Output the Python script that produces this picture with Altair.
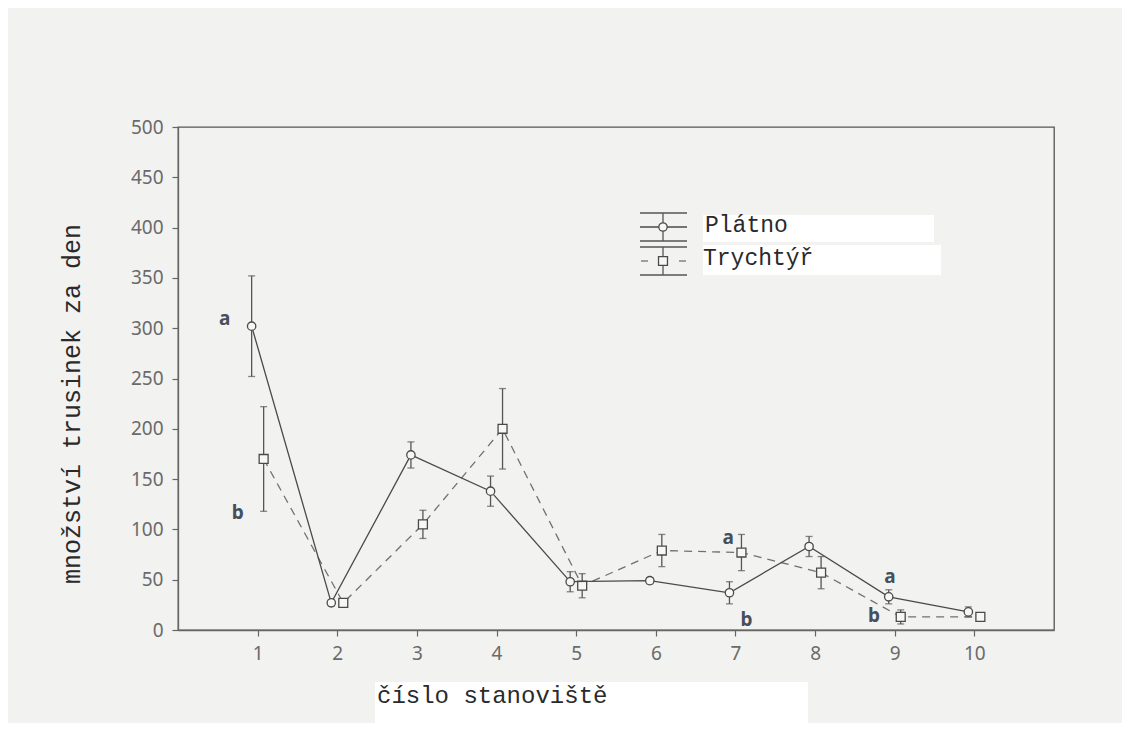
import altair as alt
import pandas as pd

# ---- data ----
sites = [1, 2, 3, 4, 5, 6, 7, 8, 9, 10]
platno_mean = [302, 27, 174, 138, 48, 49, 37, 83, 33, 18]
platno_err = [50, 3, 13, 15, 10, 3, 11, 10, 7, 5]
trych_mean = [170, 27, 105, 200, 44, 79, 77, 57, 13, 13]
trych_err = [52, 3, 14, 40, 12, 16, 18, 16, 7, 3]

x_ticks = [1, 2, 3, 4, 5, 6, 7, 8, 9, 10]
y_ticks = [0, 50, 100, 150, 200, 250, 300, 350, 400, 450, 500]

letter_text = ["a", "b", "a", "b", "a", "b"]
letter_x = [0.585, 0.75, 6.91, 7.14, 8.94, 8.74]
letter_y = [303, 110, 85, 4, 47, 8]

series_names = ["Plátno", "Trychtýř"]

df_p = pd.DataFrame({"site": sites, "mean": platno_mean, "err": platno_err})
df_t = pd.DataFrame({"site": sites, "mean": trych_mean, "err": trych_err})
for d in (df_p, df_t):
    d["lo"] = d["mean"] - d["err"]
    d["hi"] = d["mean"] + d["err"]
df_letters = pd.DataFrame({"t": letter_text, "x": letter_x, "y": letter_y})
one = pd.DataFrame({"k": [0]})

LINE = "#4a4a4a"
DASH = "#707070"
BAR = "#555555"
SW = 1.3

xscale = alt.Scale(domain=[0, 11], nice=False, zero=True)
yscale = alt.Scale(domain=[0, 500], nice=False, zero=True)
X = alt.X("site:Q", scale=xscale,
          axis=alt.Axis(values=x_ticks, format="d", title=None, labelPadding=8))
Y = alt.Y("mean:Q", scale=yscale,
          axis=alt.Axis(values=y_ticks, format="d", title=None, labelPadding=9))


def series_layers(df, off, shape, dash, lcolor, size):
    base = alt.Chart(df)
    line = base.mark_line(color=lcolor, strokeWidth=SW, xOffset=off,
                          **({"strokeDash": dash} if dash else {})).encode(x=X, y=Y)
    bars = base.mark_rule(color=BAR, strokeWidth=SW, xOffset=off).encode(
        x=X, y=alt.Y("lo:Q", scale=yscale, title=None), y2="hi:Q")
    caps_lo = base.mark_tick(color=BAR, orient="horizontal", size=7, thickness=SW, xOffset=off).encode(
        x=X, y=alt.Y("lo:Q", scale=yscale, title=None))
    caps_hi = base.mark_tick(color=BAR, orient="horizontal", size=7, thickness=SW, xOffset=off).encode(
        x=X, y=alt.Y("hi:Q", scale=yscale, title=None))
    pts = base.mark_point(shape=shape, filled=True, fill="#f7f7f5", stroke=LINE, strokeWidth=SW,
                          size=size, opacity=1, xOffset=off).encode(x=X, y=Y)
    return [line, bars, caps_lo, caps_hi, pts]


def rect(x1, x2, y1, y2, color="white"):
    return alt.Chart(one).mark_rect(color=color).encode(
        x=alt.value(x1), x2=alt.value(x2), y=alt.value(y1), y2=alt.value(y2))


def hrule(x1, x2, y, color=BAR):
    return alt.Chart(one).mark_rule(color=color, strokeWidth=SW).encode(
        x=alt.value(x1), x2=alt.value(x2), y=alt.value(y))


def vrule(x, y1, y2, color=BAR):
    return alt.Chart(one).mark_rule(color=color, strokeWidth=SW).encode(
        x=alt.value(x), y=alt.value(y1), y2=alt.value(y2))


def txt(s, x, y, size, align="left", angle=0, baseline="alphabetic"):
    return alt.Chart(one).mark_text(text=s, font="Liberation Mono", fontSize=size, color="#2a2a2a",
                                    align=align, baseline=baseline, angle=angle).encode(
        x=alt.value(x), y=alt.value(y))


layers = []
# white patches of the scan (behind legend text and x title)
layers += [rect(525, 756, 88, 115), rect(525, 763, 118, 148), rect(197, 630, 555, 596)]

layers += series_layers(df_t, 6, "square", [8, 6], DASH, 80)
layers += series_layers(df_p, -6, "circle", None, LINE, 70)

letters = alt.Chart(df_letters).mark_text(font="Noto Sans", fontWeight="bold", fontSize=19,
                                          color="#46505c", align="center", baseline="alphabetic").encode(
    x=alt.X("x:Q", scale=xscale, title=None),
    y=alt.Y("y:Q", scale=yscale, title=None),
    text="t:N")
layers.append(letters)

# legend (manual, error-bar style symbols)
lx1, lx2, lxc = 462, 509, 485
layers += [hrule(lx1, lx2, 86), hrule(lx1, lx2, 100, LINE), hrule(lx1, lx2, 114), vrule(lxc, 86, 114)]
layers.append(alt.Chart(one).mark_point(shape="circle", filled=True, fill="#f7f7f5", stroke=LINE,
                                        strokeWidth=SW, size=70, opacity=1).encode(
    x=alt.value(lxc), y=alt.value(100)))
layers += [hrule(lx1, lx2, 120), hrule(lx1 + 1, lx1 + 8, 134, DASH), hrule(lx2 - 8, lx2 - 1, 134, DASH),
           hrule(lx1, lx2, 148), vrule(lxc, 120, 148)]
layers.append(alt.Chart(one).mark_point(shape="square", filled=True, fill="#f7f7f5", stroke=LINE,
                                        strokeWidth=SW, size=80, opacity=1).encode(
    x=alt.value(lxc), y=alt.value(134)))
layers += [txt(series_names[0], 527, 105, 23), txt(series_names[1], 525, 138, 23)]

# axis titles as text
layers.append(txt("číslo stanoviště", 199, 576, 24))
layers.append(txt("množství trusinek za den", -106, 277, 25, align="center", angle=270, baseline="middle"))

chart = alt.layer(*layers).properties(
    width=876, height=503,
    background="#f2f2f0",
    padding={"left": 170, "top": 119, "right": 68, "bottom": 93},
    autosize=alt.AutoSizeParams(type="none"),
).configure_view(
    stroke="#555555", strokeWidth=1.3
).configure_axis(
    grid=False, domainColor="#666666", domainWidth=1.3, tickColor="#666666", tickWidth=1.2,
    tickSize=6, labelFont="Noto Sans", labelFontSize=19, labelColor="#6a6a6a"
)

chart.save("out.html", embed_options={"renderer": "svg", "actions": False})
